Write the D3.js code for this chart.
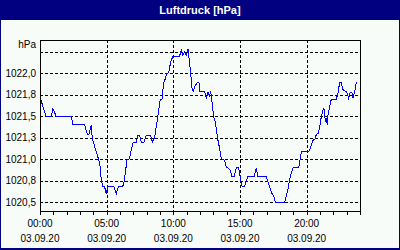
<!DOCTYPE html>
<html>
<head>
<meta charset="utf-8">
<script src="https://cdn.jsdelivr.net/npm/d3@7"></script>
<style>
  body { margin: 0; }
  svg text { font-family: "Liberation Sans", Arial, sans-serif; }
</style>
</head>
<body>
<svg id="chart" width="400" height="250"></svg>
<script>
const TITLE = 'Luftdruck [hPa]';
const UNIT = 'hPa';
const DAY = '2020-09-03';
const DATE_LABEL = '03.09.20';

// time of reading (HH:MM) and pressure in hPa
const times = [
  '00:03', '00:14', '00:24', '00:28', '00:51', '00:58', '01:13', '02:21', '02:28', '03:21',
  '03:33', '03:40', '03:51', '03:55', '04:06', '04:18', '04:29', '04:36', '04:43', '04:50',
  '04:58', '05:06', '05:32', '05:43', '05:54', '06:13', '06:18', '06:24', '06:31', '06:43',
  '06:51', '06:58', '07:13', '07:21', '07:28', '07:36', '07:48', '07:58', '08:18', '08:25',
  '08:36', '08:48', '08:54', '09:01', '09:09', '09:16', '09:24', '09:31', '09:39', '09:48',
  '09:58', '10:28', '10:36', '10:43', '10:51', '10:58', '11:06', '11:13', '11:18', '11:24',
  '11:30', '11:39', '11:48', '11:55', '12:00', '12:21', '12:28', '12:36', '12:43', '12:48',
  '12:54', '13:01', '13:09', '13:13', '13:21', '13:28', '13:36', '13:51', '13:58', '14:07',
  '14:15', '14:24', '14:33', '14:43', '14:54', '15:01', '15:09', '15:21', '15:36', '16:03',
  '16:13', '16:21', '16:58', '17:06', '17:13', '17:21', '17:33', '17:39', '18:21', '18:28',
  '18:36', '18:43', '18:51', '18:58', '19:24', '19:31', '19:36', '20:09', '20:13', '20:21',
  '20:28', '20:39', '20:43', '20:51', '20:58', '21:06', '21:13', '21:18', '21:24', '21:28',
  '21:33', '21:36', '21:43', '21:51', '22:13', '22:21', '22:28', '22:36', '22:43', '22:51',
  '23:01', '23:09', '23:16', '23:24', '23:28', '23:36', '23:43', '23:48'
];
const pressure = [
  1021.70, 1021.61, 1021.53, 1021.50, 1021.50, 1021.59, 1021.50, 1021.50, 1021.40, 1021.40,
  1021.29, 1021.29, 1021.40, 1021.25, 1021.15, 1021.05, 1020.95, 1020.76, 1020.69, 1020.69,
  1020.60, 1020.69, 1020.69, 1020.60, 1020.69, 1020.69, 1020.74, 1020.84, 1020.99, 1021.01,
  1021.11, 1021.19, 1021.20, 1021.28, 1021.28, 1021.20, 1021.20, 1021.28, 1021.28, 1021.20,
  1021.26, 1021.46, 1021.57, 1021.69, 1021.70, 1021.88, 1021.94, 1022.00, 1022.01, 1022.13,
  1022.20, 1022.20, 1022.27, 1022.21, 1022.25, 1022.21, 1022.28, 1022.13, 1022.00, 1021.83,
  1021.79, 1021.86, 1021.89, 1021.90, 1021.79, 1021.79, 1021.71, 1021.78, 1021.74, 1021.79,
  1021.67, 1021.50, 1021.44, 1021.36, 1021.22, 1021.13, 1021.01, 1020.99, 1020.91, 1020.90,
  1020.88, 1020.80, 1020.80, 1020.90, 1020.90, 1020.80, 1020.69, 1020.69, 1020.80, 1020.80,
  1020.90, 1020.80, 1020.80, 1020.74, 1020.68, 1020.62, 1020.56, 1020.50, 1020.50, 1020.57,
  1020.66, 1020.76, 1020.84, 1020.90, 1020.90, 1021.01, 1021.09, 1021.09, 1021.11, 1021.17,
  1021.22, 1021.24, 1021.29, 1021.30, 1021.36, 1021.50, 1021.57, 1021.59, 1021.44, 1021.48,
  1021.40, 1021.52, 1021.61, 1021.70, 1021.70, 1021.77, 1021.89, 1021.89, 1021.81, 1021.80,
  1021.78, 1021.71, 1021.78, 1021.77, 1021.71, 1021.79, 1021.89, 1021.89
];
const yTicks = [1020.5, 1020.75, 1021.0, 1021.25, 1021.5, 1021.75, 1022.0, 1022.25];
const xTickLabels = ['00:00', '05:00', '10:00', '15:00', '20:00'];

const parse = d3.timeParse('%Y-%m-%d %H:%M');
const data = times.map((t, i) => ({ t: parse(`${DAY} ${t}`), v: pressure[i] }));

const svg = d3.select('#chart');
const plot = { left: 40, right: 360, top: 40, bottom: 211 };

// window frame + title bar
svg.append('rect').attr('width', 400).attr('height', 250).attr('fill', '#000080');
svg.append('rect')
  .attr('x', 1).attr('y', 20).attr('width', 398).attr('height', 228)
  .attr('fill', '#f8fcf8');
svg.append('text')
  .attr('x', 200).attr('y', 14)
  .attr('text-anchor', 'middle')
  .attr('fill', '#fff')
  .attr('font-weight', 'bold')
  .attr('font-size', '11px')
  .text(TITLE);

const x = d3.scaleTime()
  .domain([parse(`${DAY} 00:00`), parse('2020-09-04 00:00')])
  .range([plot.left, plot.right]);
const y = d3.scaleLinear()
  .domain([1020.4, 1022.388])
  .range([plot.bottom, plot.top]);

const fmt = d3.formatLocale({ decimal: ',', thousands: '', grouping: [3], currency: ['', ' €'] }).format('.1f');
const px = v => Math.round(v) + 0.5;

// horizontal grid
svg.append('g')
  .selectAll('line')
  .data(yTicks)
  .join('line')
  .attr('x1', plot.left).attr('x2', plot.right)
  .attr('y1', d => px(y(d))).attr('y2', d => px(y(d)))
  .attr('stroke', '#000')
  .attr('stroke-dasharray', '3,2')
  .attr('shape-rendering', 'crispEdges');

// vertical grid
const xGridTimes = xTickLabels.slice(1).map(t => parse(`${DAY} ${t}`));
svg.append('g')
  .selectAll('line')
  .data(xGridTimes)
  .join('line')
  .attr('x1', d => px(x(d))).attr('x2', d => px(x(d)))
  .attr('y1', plot.top).attr('y2', plot.bottom)
  .attr('stroke', '#000')
  .attr('stroke-dasharray', '3,2')
  .attr('shape-rendering', 'crispEdges');

// y labels (only the ones below the top line)
svg.append('g')
  .selectAll('text')
  .data(yTicks.filter(d => d <= 1022.0))
  .join('text')
  .attr('x', 36)
  .attr('y', d => y(d) + 3.5)
  .attr('text-anchor', 'end')
  .attr('font-size', '10px')
  .attr('fill', '#000')
  .text(d => fmt(d));
svg.append('text')
  .attr('x', 36).attr('y', 48)
  .attr('text-anchor', 'end')
  .attr('font-size', '10px')
  .text(UNIT);

// x axis: hourly ticks, labels every 5 hours
const xAxis = d3.axisBottom(x)
  .ticks(d3.timeHour.every(1))
  .tickSize(3)
  .tickFormat('');
const gx = svg.append('g')
  .attr('transform', `translate(0,${plot.bottom + 0.5})`)
  .attr('shape-rendering', 'crispEdges')
  .call(xAxis);
gx.select('.domain').remove();
gx.selectAll('.tick line').attr('stroke', '#000');

const labelTimes = xTickLabels.map(t => parse(`${DAY} ${t}`));
const lbl = svg.append('g')
  .selectAll('g')
  .data(labelTimes)
  .join('g')
  .attr('transform', d => `translate(${x(d)},0)`);
lbl.append('text')
  .attr('y', 227)
  .attr('text-anchor', 'middle')
  .attr('font-size', '10px')
  .text(d => d3.timeFormat('%H:%M')(d));
lbl.append('text')
  .attr('y', 242)
  .attr('text-anchor', 'middle')
  .attr('font-size', '10px')
  .text(DATE_LABEL);

// plot frame
svg.append('rect')
  .attr('x', plot.left + 0.5).attr('y', plot.top + 0.5)
  .attr('width', plot.right - plot.left).attr('height', plot.bottom - plot.top)
  .attr('fill', 'none')
  .attr('stroke', '#000')
  .attr('shape-rendering', 'crispEdges');

// pressure line, aliased like the original
svg.append('path')
  .datum(data)
  .attr('fill', 'none')
  .attr('stroke', '#0000ff')
  .attr('stroke-width', 1)
  .attr('shape-rendering', 'crispEdges')
  .attr('d', d3.line().x(d => x(d.t)).y(d => y(d.v)));
</script>
</body>
</html>
